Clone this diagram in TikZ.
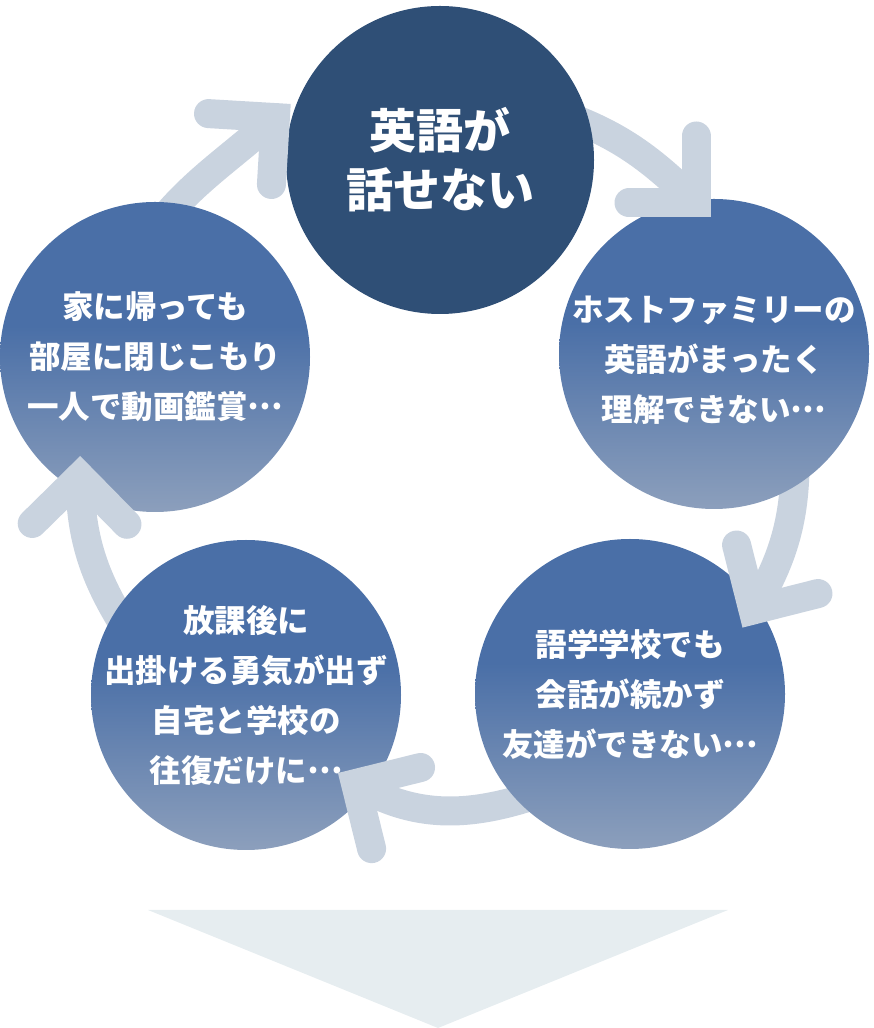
\documentclass[tikz,border=0pt]{standalone}
\usepackage{fontspec}
\newfontfamily\jpfont{Noto Sans CJK JP}
\usetikzlibrary{calc}
\definecolor{navy}{HTML}{2F4F76}
\definecolor{fadehi}{HTML}{4A6FA7}
\definecolor{fadelo}{HTML}{8C9FBC}
\definecolor{loopgray}{HTML}{C9D3DF}
\definecolor{tripale}{HTML}{E6EDF0}
\pgfdeclareverticalshading{bluefade}{100bp}{color(0bp)=(fadelo); color(25bp)=(fadelo); color(55bp)=(fadehi); color(100bp)=(fadehi)}
\newcommand{\drawhead}[2]{\draw[headline] ($(#1)+({#2+135}:67)$) -- (#1) -- ($(#1)+({#2-135}:67)$);}
\newcommand{\middots}{\raisebox{0.28em}{…}}

\begin{document}
\begin{tikzpicture}[x=1pt,y=1pt,
  bubble/.style={circle,minimum size=310pt,inner sep=-40pt,text=white,align=center,
    font=\jpfont\bfseries\fontsize{31.5}{50}\selectfont},
  fade/.style={bubble,shading=bluefade},
  loopline/.style={loopgray,line width=29pt,line cap=round},
  headline/.style={loopgray,line width=29pt,line cap=round,line join=miter}]
  \useasboundingbox (0,0) rectangle (873,1028);

  % Big pointer at the bottom
  \fill[tripale] (148,118) -- (728,118) -- (438,0) -- cycle;

  % Loop arrows (bodies go under the circles)
  \coordinate (hub) at (437,578);
  \coordinate (s1) at ($(hub)+(72:358)$);
  \coordinate (s2) at ($(hub)+(2:358)$);
  \coordinate (s3) at ($(hub)+(-69:358)$);
  \coordinate (s4) at ($(hub)+(-146:358)$);
  \coordinate (s5) at ($(hub)+(144:358)$);
  \coordinate (k1) at (696,825);
  \coordinate (k2) at (753,418);
  \coordinate (k3) at (355.5,244.4);
  \coordinate (k4) at (80,551.5);
  \coordinate (k5) at (275.4,910.4);
  \draw[loopline] (s1) to[out=-18,in=135] (k1);
  \draw[loopline] (s2) to[out=-88,in=59] (k2);
  \draw[loopline] (s3) to[out=-159,in=-31] (k3);
  \draw[loopline] (s4) to[out=124,in=-90] (k4);
  \draw[loopline] (s5) to[out=54,in=222] (k5);

  % Circles
  \node[bubble,minimum size=308pt,fill=navy,font=\jpfont\bfseries\fontsize{47}{59}\selectfont]
    (speak) at (440,868) {英語が\\話せない};
  \node[fade] (host) at (714,674) {};
  \node[text=white,align=center,font=\jpfont\bfseries\fontsize{31.5}{50}\selectfont]
    (hosttext) at ($(host)+(0,-6)$) {ホストファミリーの\\英語がまったく\\理解できない\middots};
  \node[fade] (school) at (630,334) {語学学校でも\\会話が続かず\\友達ができない\middots};
  \node[fade] (after) at (246,333) {放課後に\\出掛ける勇気が出ず\\自宅と学校の\\往復だけに\middots};
  \node[fade] (room) at (155,671) {家に帰っても\\部屋に閉じこもり\\一人で動画鑑賞\middots};

  % Arrow heads on top
  \drawhead{k1}{-45}
  \drawhead{k2}{-120.8}
  \drawhead{k3}{148.9}
  \drawhead{k4}{89.5}
  \drawhead{k5}{41.6}
\end{tikzpicture}
\end{document}
